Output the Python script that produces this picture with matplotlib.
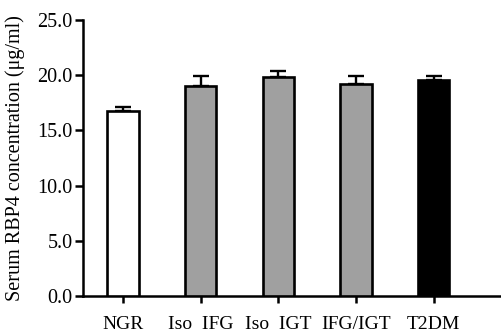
import numpy as np
import matplotlib.pyplot as plt

plt.rcParams['font.family'] = ['Liberation Serif', 'DejaVu Serif']

groups = ['NGR', 'Iso  IFG', 'Iso  IGT', 'IFG/IGT', 'T2DM']
means = [16.8, 19.05, 19.8, 19.2, 19.55]
errors = [0.3, 0.9, 0.6, 0.75, 0.4]
colors = ['white', '#a0a0a0', '#a0a0a0', '#a0a0a0', 'black']

fig = plt.figure(figsize=(5.02, 3.36), dpi=100)
ax = fig.add_axes([83 / 502, 1 - 296 / 336, 1 - 83 / 502, 276 / 336])

x = np.arange(len(groups))
ax.bar(x, means, width=0.4, color=colors, edgecolor='black', linewidth=1.9, zorder=3)
ax.errorbar(x, means, yerr=[np.zeros(len(errors)), errors], fmt='none',
            ecolor='black', elinewidth=1.7, capsize=5.5, capthick=1.7, zorder=2)

ax.set_xlim(-0.515, 4.88)
ax.set_ylim(0, 25)
ax.set_yticks(np.arange(0, 25.1, 5))
ax.set_yticklabels([f'{v:.1f}' for v in np.arange(0, 25.1, 5)])
ax.set_xticks(x)
ax.set_xticklabels(groups)

ax.spines['top'].set_visible(False)
ax.spines['right'].set_visible(False)
ax.spines['left'].set_linewidth(1.8)
ax.spines['bottom'].set_linewidth(1.8)
ax.tick_params(axis='y', length=5.5, width=1.8, labelsize=14.5, pad=2)
ax.tick_params(axis='x', length=5, width=1.8, labelsize=14, pad=9.5)
ax.set_ylabel('Serum RBP4 concentration (μg/ml)', fontsize=14.5, labelpad=9)

fig.savefig('out.png', dpi=100)
